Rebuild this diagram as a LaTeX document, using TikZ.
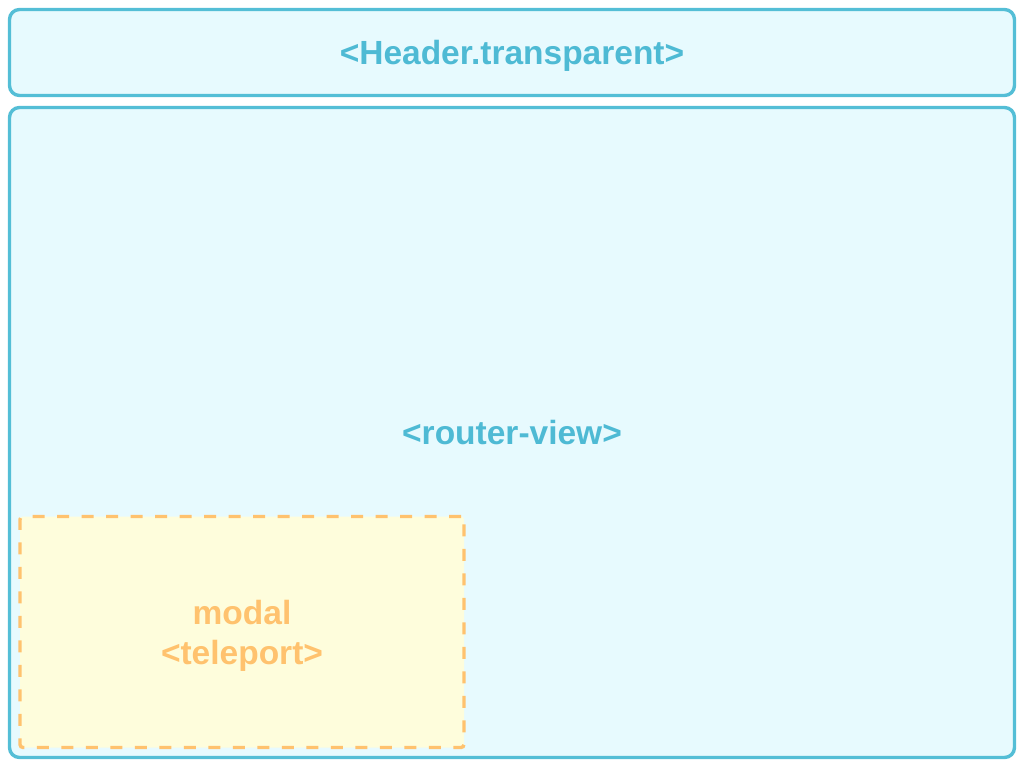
\documentclass[tikz,border=0pt]{standalone}
\usepackage{fontspec}
\setmainfont{Liberation Sans}
\definecolor{vueblue}{RGB}{84,190,214}
\definecolor{vuebluefill}{RGB}{231,250,254}
\definecolor{vuebluetext}{RGB}{78,186,212}
\definecolor{modalorange}{RGB}{255,194,110}
\definecolor{modalfill}{RGB}{254,253,220}
\usetikzlibrary{positioning}

\begin{document}
\begin{tikzpicture}[x=1pt, y=-1pt,
    layoutbox/.style={draw=vueblue, fill=vuebluefill, line width=3.4pt, rounded corners=10pt,
      text=vuebluetext, font=\fontsize{33.5}{40}\selectfont\bfseries, align=center, text depth=0pt},
    teleportbox/.style={draw=modalorange, fill=modalfill, line width=3.4pt, rounded corners=3pt,
      dash pattern=on 12pt off 12.5pt, text=modalorange,
      font=\fontsize{33.5}{40}\selectfont\bfseries, align=center, text depth=0pt}]
  \useasboundingbox (0,0) rectangle (1024,768);

  %% Page layout
  \node[layoutbox, minimum width=1005pt, minimum height=86pt]  (header) at (512,52.5)  {<Header.transparent>};
  \node[layoutbox, minimum width=1005pt, minimum height=650pt] (router) at (512,432.5) {<router-view>};

  %% Teleported modal
  \node[teleportbox, minimum width=444pt, minimum height=231pt] (modal) at (242,632) {modal\\<teleport>};
\end{tikzpicture}
\end{document}
